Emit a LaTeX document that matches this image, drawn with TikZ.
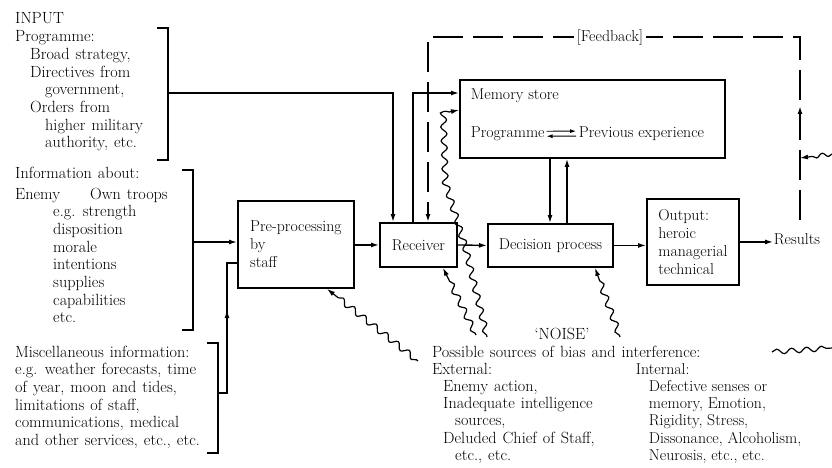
\documentclass[tikz,border=0pt]{standalone}
\usetikzlibrary{arrows.meta,decorations.pathmorphing,decorations.markings,calc}
\newcommand\mytxtfont{\fontsize{16.2}{17.7}\selectfont\spaceskip 0.37em plus 0.1em minus 0.1em\relax}
\newcommand\myntxtfont{\fontsize{16.2}{17.3}\selectfont\spaceskip 0.37em plus 0.1em minus 0.1em\relax}
\begin{document}
\begin{tikzpicture}[x=1pt,y=-1pt,
  txt/.style={inner sep=0pt, font=\mytxtfont, align=left},
  ntxt/.style={inner sep=0pt, font=\myntxtfont, align=left},
  box/.style={draw, line width=1.9pt, inner sep=0pt, font=\fontsize{15.8}{18}\selectfont, align=left},
  conn/.style={line width=1.4pt},
  arr/.style={conn, -{Latex[length=8pt,width=5pt]}},
  brk/.style={line width=1.6pt},
  fb/.style={line width=1.6pt, dash pattern=on 30pt off 10pt},
  noise/.style={line width=1.2pt, decorate, decoration={snake, segment length=14pt, amplitude=3pt, pre length=2pt, post length=9pt}},
  tip/.style={-{Latex[length=8pt,width=5pt]}}
]
\useasboundingbox (0,0) rectangle (832,468);

% ---- boxes ----
\node[box, minimum width=116pt, minimum height=87pt, anchor=north west] (pre) at (237,200) {Pre-processing\\by\\staff};
\node[box, minimum width=77pt, minimum height=44pt, anchor=north west] (rec) at (379,222) {Receiver};
\node[box, minimum width=125pt, minimum height=43pt, anchor=north west] (dec) at (487,223) {Decision process};
\node[box, minimum width=92pt, minimum height=86pt, anchor=north west] (out) at (646,198) {Output:\\heroic\\managerial\\technical};
\node[box, minimum width=265pt, minimum height=78pt, anchor=north west] (mem) at (459,79) {};
\node[box, draw=none, anchor=base west] (memt) at (470,100) {Memory store};
\node[box, draw=none, anchor=base west] (prog) at (470,138) {Programme};
\node[box, draw=none, anchor=base west] (prev) at (578,138) {Previous experience};
\node[box, draw=none, anchor=base west] (res) at (773,244) {Results};

% ---- left texts (anchored at the baseline of the last line) ----
\node[txt, anchor=base west] (inp) at (15,147.9) {INPUT\\Programme:\\\hspace*{15pt}Broad strategy,\\\hspace*{15pt}Directives from\\\hspace*{30pt}government,\\\hspace*{15pt}Orders from\\\hspace*{30pt}higher military\\\hspace*{30pt}authority, etc.};
\node[txt, anchor=base west] (infa) at (15,178) {Information about:};
\node[txt, anchor=base west] (info) at (15,322.9) {Enemy\\\hspace*{38pt}e.g. strength\\\hspace*{38pt}disposition\\\hspace*{38pt}morale\\\hspace*{38pt}intentions\\\hspace*{38pt}supplies\\\hspace*{38pt}capabilities\\\hspace*{38pt}etc.};
\node[txt, anchor=base west] (own) at (90,199) {Own troops};
\node[txt, anchor=base west] (misc) at (15,445.5) {Miscellaneous information:\\e.g. weather forecasts, time\\of year, moon and tides,\\limitations of staff,\\communications, medical\\and other services, etc., etc.};

% ---- noise texts ----
\node[txt, anchor=base] (noisel) at (562,339) {`NOISE'};
\node[txt, anchor=base west] (poss) at (432,357) {Possible sources of bias and interference:};
\node[ntxt, anchor=base west] (ext) at (432,460.5) {External:\\\hspace*{11pt}Enemy action,\\\hspace*{11pt}Inadequate intelligence\\\hspace*{23pt}sources,\\\hspace*{11pt}Deluded Chief of Staff,\\\hspace*{23pt}etc., etc.};
\node[box, draw=none, font=\fontsize{15.8}{17.3}\selectfont, anchor=base west] (int) at (635,460.5) {Internal:\\\hspace*{13pt}Defective senses or\\\hspace*{13pt}memory, Emotion,\\\hspace*{13pt}Rigidity, Stress,\\\hspace*{13pt}Dissonance, Alcoholism,\\\hspace*{13pt}Neurosis, etc., etc.};

% ---- brackets ----
\draw[brk] (157,28) -- (168,28) -- (168,160) -- (157,160);
\draw[brk] (182,170) -- (193,170) -- (193,330) -- (182,330);
\draw[brk] (207,343) -- (218,343) -- (218,453) -- (207,453);
\coordinate (b1) at (168,93);
\coordinate (b2) at (193,242);
\coordinate (b3) at (218,393);

% ---- connectors ----
\draw[arr] (b1) -| ($(rec.north west)+(14,0)$);
\draw[arr] ($(rec.north west)+(34,0)$) |- ($(mem.north west)+(0,14)$);
\draw[arr] (b2) -- (b2 -| pre.west);
\draw[conn, postaction={decorate, decoration={markings, mark=at position 92pt with {\arrow{Latex[length=8pt,width=5pt]}}}}]
  (b3) -- ++(9,0) |- ($(pre.north west)+(0,63)$);
\draw[arr] (pre.east |- rec.west) -- (rec.west);
\draw[arr] (rec.east) -- (dec.west);
\draw[arr] (dec.east) -- (dec.east -| out.west);
\draw[arr] (out.east) -- (out.east -| res.west);
\draw[arr] ($(mem.south west)+(91,0)$) -- ($(dec.north west)+(63,0)$);
\draw[arr] ($(dec.north west)+(80,0)$) -- ($(mem.south west)+(108,0)$);
\draw[line width=0.9pt, -{Latex[length=6pt,width=4pt]}] ($(prog.east)+(1,-3)$) -- ($(prev.west)+(-2,-3)$);
\draw[line width=0.9pt, -{Latex[length=6pt,width=4pt]}] ($(prev.west)+(-2,2)$) -- ($(prog.east)+(1,2)$);

% ---- feedback ----
\coordinate (fbB) at (800,220);
\coordinate (fbR) at (800,37);
\draw[fb, tip, postaction={decorate, decoration={markings, mark=at position 114pt with {\arrow{Latex[length=8pt,width=5pt]}}}}]
  (fbB) -- (fbR) -| ($(rec.north west)+(49,0)$);
\node[box, draw=none, fill=white, inner xsep=3pt, inner ysep=2pt, anchor=base] (fbl) at (610,42) {[Feedback]};

% ---- noise ----
\coordinate (n1) at (418,361);
\coordinate (n2) at (476,335);
\coordinate (n3) at (487,337);
\coordinate (n4) at (620,337);
\coordinate (n5a) at (772,352);
\coordinate (n5b) at (832,348);
\coordinate (n6) at (832,154);
\draw[noise, tip] (n1) -- ($(pre.south west)+(90,0)$);
\draw[noise, tip] (n2) -- ($(rec.south west)+(64,0)$);
\draw[noise, tip] (n3) -- (466,250) -- (446,185) -- (444,113) -- ($(mem.north west)+(0,31)$);
\draw[noise, tip] (n4) -- ($(dec.south west)+(108,0)$);
\draw[line width=1.2pt, decorate, decoration={snake, segment length=15pt, amplitude=2.5pt}] (n5a) -- (n5b);
\draw[line width=1.2pt, tip, decorate, decoration={snake, segment length=12pt, amplitude=2pt, post length=8pt}] (n6) -- ($(fbB)+(0,-62)$);
\end{tikzpicture}
\end{document}
